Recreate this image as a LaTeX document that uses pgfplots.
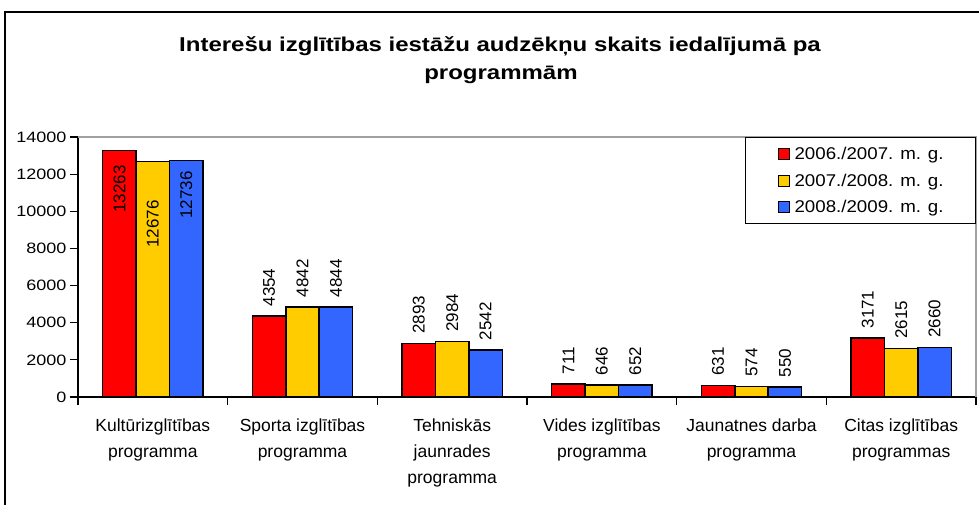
\documentclass[border=0pt]{standalone}
\usepackage{fontspec}
\setmainfont{Liberation Sans}
\newfontfamily\tickfont{Liberation Sans}[FakeStretch=1.2]
\newfontfamily\legfont{Liberation Sans}[FakeStretch=1.1]
\usepackage{pgfplots}
\pgfplotsset{compat=1.18}
\definecolor{cred}{HTML}{FF0000}
\definecolor{cyel}{HTML}{FFCC00}
\definecolor{cblu}{HTML}{3366FF}
\definecolor{frameg}{HTML}{A0A0A0}
\pgfplotsset{
  mylegend/.style={legend image code/.code={\draw[##1, draw=black, line width=1bp] (0bp,-5.5bp) rectangle (11bp,5.5bp);}},
  barbase/.style={ybar, draw=black, line width=1.5bp, bar width=33.4bp},
  lblabove/.style={nodes near coords, every node near coord/.append style={xshift=#1, rotate=90, anchor=west, inner xsep=9bp, inner ysep=0bp, font=\fontsize{17bp}{20bp}\selectfont, text=black}},
  lblinside/.style 2 args={nodes near coords, every node near coord/.append style={xshift=#1, rotate=90, anchor=east, inner xsep=#2, inner ysep=0bp, font=\fontsize{17bp}{20bp}\selectfont, text=black}},
}
\begin{document}
\begin{tikzpicture}
\useasboundingbox (0,0) rectangle (979bp,505bp);
\fill[white] (0,0) rectangle (979bp,505bp);
\draw[black, line width=2bp] (5bp,0) -- (5bp,493bp) -- (979bp,493bp);
\node[anchor=base, inner sep=0pt, font=\tickfont\bfseries\fontsize{20bp}{24bp}\selectfont] at (500bp,453bp) {Interešu izglītības iestāžu audzēkņu skaits iedalījumā pa};
\node[anchor=base, inner sep=0pt, font=\tickfont\bfseries\fontsize{20bp}{24bp}\selectfont] at (501bp,425bp) {programmām};
\begin{axis}[
  at={(78bp,108bp)}, anchor=south west,
  scale only axis, width=898bp, height=260bp,
  xmin=-0.5, xmax=5.5, ymin=0, ymax=14000,
  axis lines=left, axis line style={-, line width=1.2bp},
  xtick={-0.5,0.5,1.5,2.5,3.5,4.5,5.5},
  x tick label as interval,
  xticklabels={{Kultūrizglītības\\programma},{Sporta izglītības\\programma},{Tehniskās\\jaunrades\\programma},{Vides izglītības\\programma},{Jaunatnes darba\\programma},{Citas izglītības\\programmas}},
  ytick={0,2000,4000,6000,8000,10000,12000,14000},
  scaled y ticks=false,
  tick align=outside,
  major tick length=8bp,
  tick style={black, line width=1.2bp},
  yticklabel style={font=\tickfont\fontsize{15bp}{18bp}\selectfont},
  xticklabel style={font=\fontsize{17.5bp}{26bp}\selectfont, align=center, yshift=-10bp},
  /pgf/number format/assume math mode=true,
  /pgf/number format/1000 sep={},
  legend style={at={(1,1)}, anchor=north east, draw=black, line width=0.8bp, fill=white,
    font=\legfont\fontsize{17bp}{20bp}\selectfont, inner xsep=32bp, inner ysep=10bp,
    row sep=12.5bp, column sep=5bp, nodes={inner sep=0bp, text depth=0.15em}},
  legend cell align=left,
  clip=false,
]
\addplot[barbase, fill=cred, bar shift=-33.4bp, mylegend, lblabove=-33.4bp] coordinates {(1,4354) (2,2893) (3,711) (4,631) (5,3171)};
\addplot[barbase, fill=cyel, bar shift=0bp, mylegend, lblabove=0bp] coordinates {(1,4842) (2,2984) (3,646) (4,574) (5,2615)};
\addplot[barbase, fill=cblu, bar shift=33.4bp, mylegend, lblabove=33.4bp] coordinates {(1,4844) (2,2542) (3,652) (4,550) (5,2660)};
\addplot[barbase, fill=cred, bar shift=-33.4bp, forget plot, lblinside={-33.4bp}{14bp}] coordinates {(0,13263)};
\addplot[barbase, fill=cyel, bar shift=0bp, forget plot, lblinside={0bp}{38bp}] coordinates {(0,12676)};
\addplot[barbase, fill=cblu, bar shift=33.4bp, forget plot, lblinside={33.4bp}{10bp}] coordinates {(0,12736)};
\draw[frameg, line width=1.5bp] (rel axis cs:0,1) -- (rel axis cs:1,1) -- (rel axis cs:1,0);
\legend{2006./2007. m. g., 2007./2008. m. g., 2008./2009. m. g.}
\end{axis}
\end{tikzpicture}
\end{document}
